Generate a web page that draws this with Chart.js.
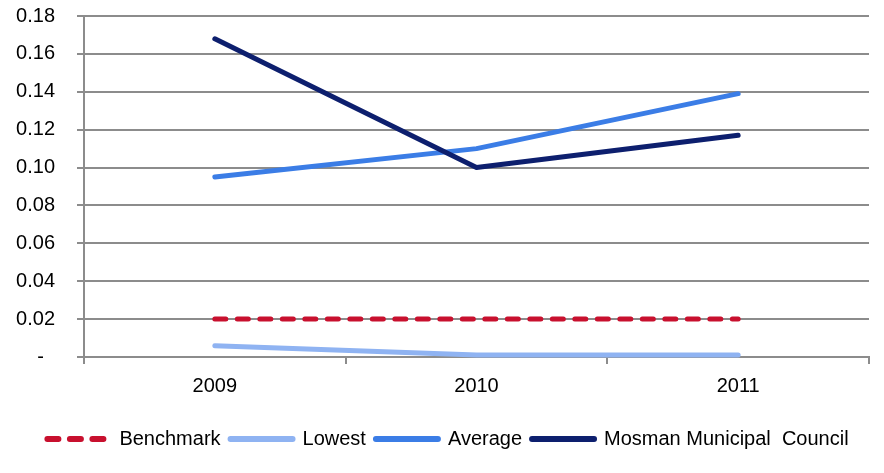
<!DOCTYPE html>
<html>
<head>
<meta charset="utf-8">
<script src="https://cdn.jsdelivr.net/npm/chart.js@4/dist/chart.umd.min.js"></script>
<style>
  html, body { margin: 0; padding: 0; background: #ffffff; }
  #wrap { width: 884px; height: 473px; position: relative; }
</style>
</head>
<body>
<div id="wrap"><canvas id="chart"></canvas></div>
<script>
// Years on the category axis
const years = ['2009', '2010', '2011'];

// Series values
const benchmark = [0.02, 0.02, 0.02];
const lowest = [0.006, 0.001, 0.001];
const average = [0.095, 0.110, 0.139];
const mosman = [0.168, 0.100, 0.117];

// Series names shown in the legend
const seriesNames = ['Benchmark', 'Lowest', 'Average', 'Mosman Municipal  Council'];

// Value axis range
const yMin = 0;
const yMax = 0.18;
const yStep = 0.02;

const FONT = { family: '"Liberation Sans", Arial, sans-serif', size: 20 };
const GRID = '#8c8c8c';

const lineStyle = (label, data, color, order, dash) => ({
  label,
  data,
  borderColor: color,
  backgroundColor: color,
  borderWidth: 5,
  borderCapStyle: 'round',
  borderJoinStyle: 'round',
  borderDash: dash || [],
  pointRadius: 0,
  pointHoverRadius: 0,
  pointStyle: 'line',
  tension: 0,
  fill: false,
  clip: false,
  order
});

// Legend entries drawn as short strokes carrying each series' dash and caps
function legendLabels(chart) {
  const base = Chart.defaults.plugins.legend.labels.generateLabels(chart);
  return base.map((item) => {
    const ds = chart.data.datasets[item.datasetIndex];
    return Object.assign(item, {
      lineDash: ds.borderDash,
      lineCap: 'round',
      lineWidth: 6,
      pointStyle: 'line',
      fontColor: '#000000'
    });
  }).sort((a, b) => a.datasetIndex - b.datasetIndex);
}

new Chart(document.getElementById('chart'), {
  type: 'line',
  data: {
    labels: years,
    datasets: [
      lineStyle(seriesNames[0], benchmark, '#c8102e', 3, [11, 11.5]),
      lineStyle(seriesNames[1], lowest, '#8fb3f2', 2),
      lineStyle(seriesNames[2], average, '#3b7de6', 1),
      lineStyle(seriesNames[3], mosman, '#0d1f6e', 0)
    ]
  },
  options: {
    responsive: true,
    maintainAspectRatio: false,
    animation: false,
    events: [],
    layout: { padding: { left: 12, right: 0, top: 16, bottom: 14 } },
    plugins: {
      tooltip: { enabled: false },
      legend: {
        position: 'bottom',
        labels: {
          usePointStyle: true,
          pointStyleWidth: 62,
          boxHeight: 20,
          padding: 10,
          color: '#000000',
          font: FONT,
          generateLabels: legendLabels
        }
      }
    },
    scales: {
      x: {
        offset: true,
        border: { display: true, color: GRID, width: 2 },
        grid: {
          offset: true,
          drawOnChartArea: false,
          drawTicks: true,
          tickLength: 7,
          color: GRID,
          lineWidth: 2
        },
        ticks: { color: '#000000', font: FONT, padding: 10 },
        afterFit: (scale) => { scale.height = 62; }
      },
      y: {
        min: yMin,
        max: yMax,
        border: { display: true, color: GRID, width: 2 },
        grid: {
          color: GRID,
          lineWidth: 2,
          tickLength: 7
        },
        ticks: {
          stepSize: yStep,
          color: '#000000',
          font: FONT,
          padding: 22,
          callback: (v) => (Math.abs(v) < 1e-9 ? '-  ' : Number(v).toFixed(2))
        },
        afterFit: (scale) => {
          scale.width = 72;
          scale.paddingTop = 0;
          scale.paddingBottom = 0;
        }
      },
      // empty margin on the right of the plot
      yRight: {
        position: 'right',
        display: true,
        border: { display: false },
        grid: { display: false, drawTicks: false },
        ticks: { display: false },
        afterFit: (scale) => {
          scale.width = 15;
          scale.paddingTop = 0;
          scale.paddingBottom = 0;
        }
      }
    }
  }
});
</script>
</body>
</html>
